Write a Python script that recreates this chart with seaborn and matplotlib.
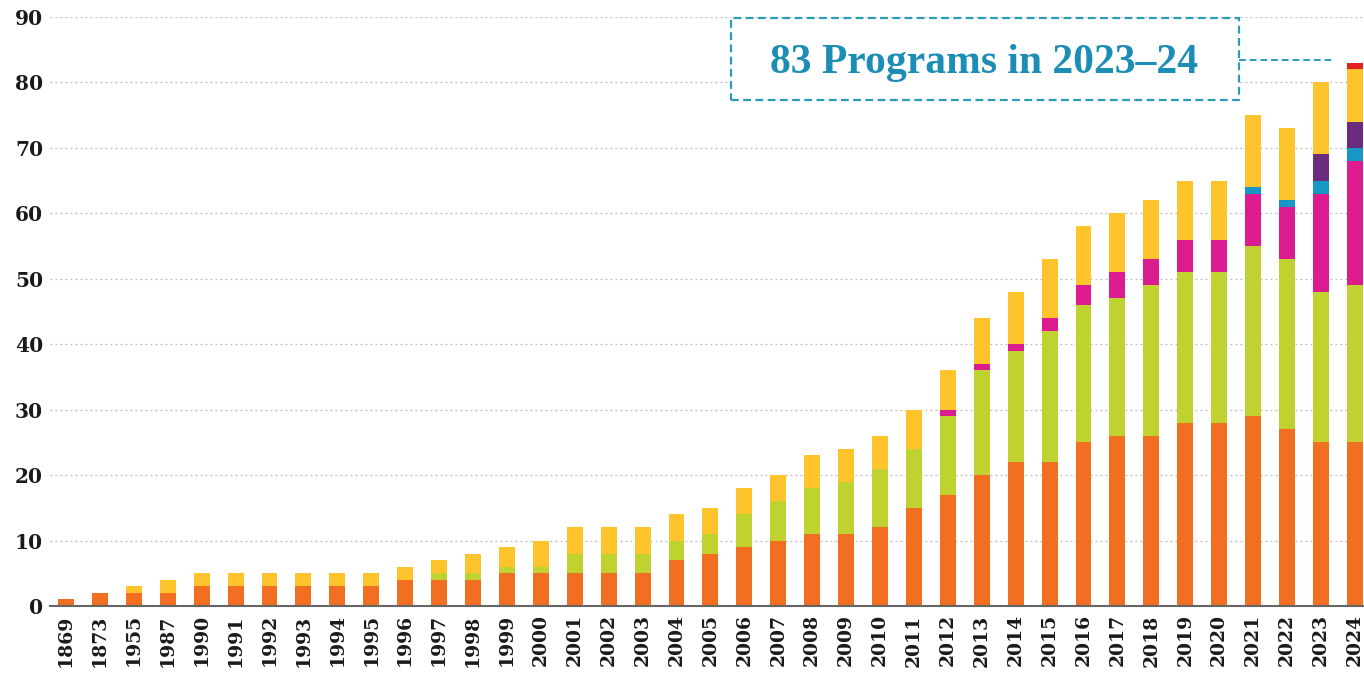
import matplotlib
matplotlib.use("Agg")
import matplotlib.pyplot as plt
import seaborn as sns
import numpy as np
import pandas as pd
from matplotlib.patches import Rectangle

years = ["1869", "1873", "1955", "1987"] + [str(y) for y in range(1990, 2025)]

orange  = [1, 2, 2, 2, 3, 3, 3, 3, 3, 3, 4, 4, 4, 5, 5, 5, 5, 5, 7, 8, 9, 10, 11, 11, 12, 15, 17, 20, 22, 22, 25, 26, 26, 28, 28, 29, 27, 25, 25]
green   = [0, 0, 0, 0, 0, 0, 0, 0, 0, 0, 0, 1, 1, 1, 1, 3, 3, 3, 3, 3, 5, 6, 7, 8, 9, 9, 12, 16, 17, 20, 21, 21, 23, 23, 23, 26, 26, 23, 24]
magenta = [0, 0, 0, 0, 0, 0, 0, 0, 0, 0, 0, 0, 0, 0, 0, 0, 0, 0, 0, 0, 0, 0, 0, 0, 0, 0, 1, 1, 1, 2, 3, 4, 4, 5, 5, 8, 8, 15, 19]
blue    = [0]*35 + [1, 1, 2, 2]
purple  = [0]*37 + [4, 4]
yellow  = [0, 0, 1, 2, 2, 2, 2, 2, 2, 2, 2, 2, 3, 3, 4, 4, 4, 4, 4, 4, 4, 4, 5, 5, 5, 6, 6, 7, 8, 9, 9, 9, 9, 9, 9, 11, 11, 11, 8]
red     = [0]*38 + [1]

series = [orange, green, magenta, blue, purple, yellow, red]
colors = ["#F26F21", "#BFD230", "#DC1C8E", "#1798C4", "#6A2C7E", "#FFC42B", "#E4211E"]

cum = np.cumsum(np.array(series), axis=0)

fig = plt.figure(figsize=(13.64, 6.75), dpi=100)
ax = fig.add_axes([0.0367, 0.1022, 0.9633, 0.8726])
sns.set_style("white")

for i in range(len(series) - 1, -1, -1):
    df = pd.DataFrame({"year": years, "value": cum[i]})
    sns.barplot(data=df, x="year", y="value", color=colors[i], saturation=1,
                width=0.47, ax=ax, order=years, errorbar=None, linewidth=0, zorder=3)

ax.set_xlim(-0.47, 38.27)
ax.set_ylim(0, 90)
ax.set_yticks(range(0, 91, 10))
ax.set_xlabel("")
ax.set_ylabel("")
for s in ["top", "right", "left"]:
    ax.spines[s].set_visible(False)
ax.spines["bottom"].set_color("#666666")
ax.spines["bottom"].set_linewidth(1.5)
ax.spines["bottom"].set_zorder(4)
ax.yaxis.grid(True, linestyle=(0, (1.5, 2.5)), color="#bbbbbb", linewidth=0.9, zorder=0)
ax.set_axisbelow(True)
ax.tick_params(axis="both", length=0)
ax.tick_params(axis="y", pad=5)
ax.tick_params(axis="x", pad=6)

for lab in ax.get_yticklabels():
    lab.set_family("DejaVu Serif")
    lab.set_fontweight("bold")
    lab.set_fontsize(14.5)
    lab.set_color("#1a1a1a")
for lab in ax.get_xticklabels():
    lab.set_family("DejaVu Serif")
    lab.set_fontweight("bold")
    lab.set_fontsize(13.5)
    lab.set_rotation(90)
    lab.set_color("#1a1a1a")

teal = "#2A9CB8"
rect = Rectangle((19.6, 77.3), 14.97, 12.5, fill=True, facecolor="white",
                 edgecolor=teal, linewidth=1.6, linestyle=(0, (3.5, 2)), zorder=5, clip_on=False)
ax.add_patch(rect)
ax.text(27.08, 83.0, "83 Programs in 2023\u201324", ha="center", va="center",
        fontsize=30, fontweight="bold", family="Liberation Serif", color="#1C8DB5", zorder=6)
ax.plot([34.57, 37.3], [83.4, 83.4], color=teal, linewidth=1.4, linestyle=(0, (3.5, 2)),
        zorder=5, clip_on=False)

fig.savefig("out.png", dpi=100)
